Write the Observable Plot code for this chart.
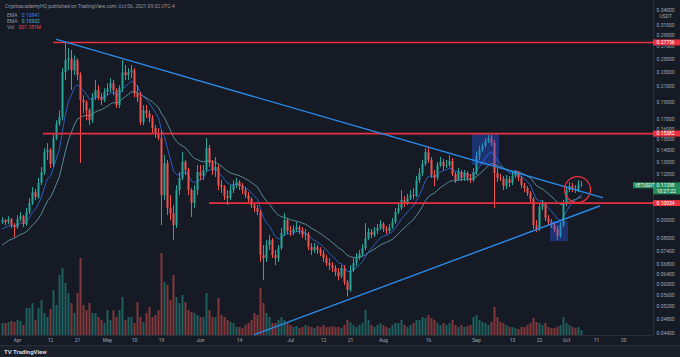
<!DOCTYPE html>
<html><head><meta charset="utf-8">
<script src="https://cdn.jsdelivr.net/npm/d3@7"></script>
<script src="https://cdn.jsdelivr.net/npm/@observablehq/plot@0.6"></script>
<style>
html,body{margin:0;padding:0;background:#161a25;}
#wrap{position:relative;width:680px;height:357px;overflow:hidden;background:#161a25;font-family:Roboto,"Noto Sans",sans-serif;}
#wrap svg{position:absolute;left:0;top:0;}
.hdr{position:absolute;left:5px;font-size:5px;line-height:6px;color:#9598a1;white-space:nowrap;}
#foot{position:absolute;left:0;top:345px;width:680px;height:12px;background:#1c202b;border-top:1px solid #2a2e39;box-sizing:border-box;}
#logo{position:absolute;left:4px;top:2px;font-size:6px;font-weight:bold;color:#d1d4dc;}
</style></head>
<body><div id="wrap"></div>
<script>
// ---------- data (VETUSDT daily) ----------
const startDay = "2021-03-27";
const firstOpen = 0.0887;
const close = [
0.0898,0.0887,0.0904,0.0870,0.0859,
0.0904,0.0921,0.0876,0.0945,0.1001,0.1072,0.1039,0.1136,0.1218,0.1383,
0.1400,0.1282,0.1510,0.1648,0.1725,0.2291,0.2475,0.2502,0.2320,0.2475,
0.2250,0.1920,0.1896,0.1800,0.1690,0.1955,0.2047,0.1955,0.1920,0.2021,
0.2070,0.2137,0.2047,0.1860,0.2070,0.2291,0.2250,0.2291,0.2320,0.2006,
0.1955,0.1669,0.1800,0.1767,0.1714,0.1609,0.1559,0.1510,0.1052,0.1290,
0.0970,0.0939,0.0870,0.1086,0.1173,0.1298,0.1233,0.1086,0.1001,0.1086,
0.1218,0.1188,0.1233,0.1418,0.1290,0.1233,0.1257,0.1121,0.1107,0.1046,
0.1033,0.1086,0.1121,0.1143,0.1114,0.1086,0.1052,0.1026,0.0988,0.0970,
0.0945,0.0720,0.0706,0.0767,0.0791,0.0720,0.0706,0.0752,0.0827,0.0898,
0.0838,0.0833,0.0849,0.0859,0.0843,0.0817,0.0822,0.0757,0.0743,0.0757,
0.0743,0.0729,0.0706,0.0684,0.0675,0.0663,0.0646,0.0630,0.0663,0.0607,
0.0577,0.0654,0.0684,0.0706,0.0725,0.0752,0.0801,0.0833,0.0817,0.0838,
0.0854,0.0876,0.0849,0.0838,0.0859,0.0887,0.0945,0.0970,0.1020,0.1001,
0.1033,0.1052,0.1046,0.1157,0.1210,0.1282,0.1383,0.1314,0.1195,0.1173,
0.1273,0.1298,0.1265,0.1273,0.1306,0.1203,0.1157,0.1218,0.1173,0.1210,
0.1173,0.1157,0.1218,0.1348,0.1400,0.1436,0.1481,0.1510,0.1462,0.1210,
0.1173,0.1168,0.1114,0.1165,0.1136,0.1188,0.1210,0.1173,0.1121,0.1100,
0.1066,0.1026,0.0870,0.0849,0.0976,0.1001,0.0910,0.0887,0.0870,0.0849,
0.0812,0.0870,0.0994,0.1086,0.1114,0.1093,0.1086,0.1126,0.11298];
const high = [
0.0916,0.0904,0.0921,0.0910,0.0881,
0.0927,0.0945,0.0927,0.0970,0.1033,0.1107,0.1093,0.1173,0.1257,0.1418,
0.1462,0.1418,0.1559,0.1690,0.1800,0.2352,0.2757,0.2669,0.2640,0.2550,
0.2502,0.2291,0.1980,0.1920,0.1825,0.2006,0.2180,0.2110,0.2006,0.2070,
0.2137,0.2208,0.2180,0.2070,0.2110,0.2475,0.2400,0.2352,0.2400,0.2352,
0.2110,0.2021,0.1860,0.1860,0.1800,0.1747,0.1640,0.1609,0.1589,0.1356,
0.1314,0.1052,0.0988,0.1121,0.1218,0.1383,0.1314,0.1249,0.1100,0.1121,
0.1273,0.1273,0.1273,0.1510,0.1445,0.1314,0.1339,0.1273,0.1157,0.1121,
0.1086,0.1121,0.1157,0.1173,0.1157,0.1136,0.1107,0.1072,0.1039,0.1001,
0.0988,0.0957,0.0767,0.0791,0.0817,0.0801,0.0743,0.0767,0.0854,0.0939,
0.0910,0.0865,0.0870,0.0887,0.0870,0.0859,0.0849,0.0833,0.0776,0.0776,
0.0767,0.0757,0.0743,0.0720,0.0706,0.0689,0.0675,0.0663,0.0675,0.0675,
0.0614,0.0675,0.0706,0.0729,0.0743,0.0771,0.0881,0.0854,0.0849,0.0859,
0.0876,0.0898,0.0887,0.0865,0.0876,0.0910,0.0970,0.1001,0.1086,0.1046,
0.1059,0.1086,0.1100,0.1188,0.1249,0.1314,0.1418,0.1436,0.1339,0.1233,
0.1298,0.1339,0.1322,0.1314,0.1356,0.1331,0.1218,0.1249,0.1233,0.1233,
0.1225,0.1203,0.1249,0.1383,0.1436,0.1462,0.1510,0.1539,0.1539,0.1490,
0.1249,0.1203,0.1188,0.1195,0.1188,0.1218,0.1233,0.1225,0.1188,0.1136,
0.1114,0.1079,0.1039,0.0898,0.1001,0.1020,0.1007,0.0927,0.0904,0.0887,
0.0865,0.0887,0.1020,0.1114,0.1143,0.1136,0.1121,0.1157,0.1150];
const low = [
0.0876,0.0870,0.0876,0.0854,0.0807,
0.0849,0.0892,0.0859,0.0865,0.0933,0.0988,0.1020,0.1026,0.1121,0.1195,
0.1314,0.1249,0.1257,0.1490,0.1632,0.1690,0.2180,0.2320,0.2047,0.2250,
0.2180,0.1290,0.1767,0.1690,0.1640,0.1659,0.1920,0.1920,0.1860,0.1896,
0.1980,0.2021,0.1980,0.1825,0.1825,0.2021,0.2180,0.2180,0.2208,0.1955,
0.1896,0.1640,0.1640,0.1714,0.1669,0.1559,0.1510,0.1490,0.0870,0.1020,
0.0927,0.0898,0.0791,0.0854,0.1052,0.1157,0.1195,0.1052,0.0916,0.0970,
0.1052,0.1157,0.1157,0.1218,0.1257,0.1195,0.1180,0.1086,0.1066,0.1020,
0.0988,0.1020,0.1066,0.1100,0.1086,0.1059,0.1033,0.1001,0.0970,0.0945,
0.0927,0.0689,0.0614,0.0689,0.0743,0.0706,0.0675,0.0689,0.0743,0.0812,
0.0822,0.0812,0.0817,0.0833,0.0822,0.0801,0.0791,0.0743,0.0720,0.0729,
0.0725,0.0715,0.0689,0.0671,0.0654,0.0646,0.0630,0.0614,0.0622,0.0595,
0.0553,0.0570,0.0646,0.0671,0.0697,0.0715,0.0743,0.0791,0.0801,0.0807,
0.0822,0.0843,0.0833,0.0822,0.0827,0.0849,0.0876,0.0933,0.0957,0.0976,
0.0988,0.1020,0.1026,0.1039,0.1136,0.1188,0.1265,0.1290,0.1173,0.1114,
0.1157,0.1257,0.1233,0.1249,0.1257,0.1188,0.1136,0.1157,0.1150,0.1150,
0.1150,0.1136,0.1143,0.1195,0.1314,0.1383,0.1418,0.1462,0.1436,0.0970,
0.1143,0.1150,0.1086,0.1093,0.1107,0.1121,0.1173,0.1150,0.1100,0.1072,
0.1046,0.1007,0.0849,0.0833,0.0838,0.0957,0.0892,0.0870,0.0854,0.0833,
0.0791,0.0801,0.0859,0.0982,0.1072,0.1072,0.1066,0.1072,0.1107];
// volume, millions of VET
const volume = [
240,240,260,280,260,
300,280,200,540,540,640,300,540,700,440,
360,520,900,600,1200,1340,1040,840,640,440,
840,1540,600,500,640,440,440,360,300,240,
500,300,500,360,500,760,300,360,360,240,
660,360,260,440,560,360,400,500,1640,1060,
1000,700,1200,760,640,800,660,500,460,440,
400,360,360,840,500,360,360,740,400,360,
300,260,240,160,160,140,200,240,300,440,
400,940,640,440,360,240,240,300,360,300,
240,200,160,180,140,160,200,180,160,140,
180,160,200,160,160,180,160,160,140,200,
300,260,200,160,200,240,500,300,200,160,
200,240,200,160,140,200,240,240,300,200,
160,200,240,300,300,360,340,400,340,300,
240,200,240,200,240,300,200,160,200,160,
180,200,360,400,300,260,240,200,260,560,
360,260,240,200,160,160,140,120,160,160,
200,240,340,260,240,200,240,160,140,140,
160,200,360,240,200,160,140,160,100];
// EMA settings and starting values read at the left edge
const emaFastLen = 9, emaSlowLen = 21;
const emaFastStart = 0.0843, emaSlowStart = 0.0757;
// horizontal levels
const levels = [
  {value: 0.27756, start: "2021-04-13"},
  {value: 0.15582, start: "2021-04-09T16:00Z"},
  {value: 0.10034, start: "2021-06-04"}];
// trend lines
const trendDown = [{date: "2021-04-14", price: 0.2829}, {date: "2021-10-13", price: 0.1039}];
const trendUp = [{date: "2021-06-19", price: 0.0436}, {date: "2021-10-12", price: 0.0985}];
// highlight boxes
const boxes = [
  {from: "2021-08-30T16:00Z", to: "2021-09-08T16:00Z", top: 0.1559, bottom: 0.1273},
  {from: "2021-09-25T16:00Z", to: "2021-10-01T16:00Z", top: 0.0892, bottom: 0.0786}];
const circleMark = [{date: "2021-10-04T16:00Z", price: 0.1093}];
// axes
const priceTicks = [0.044,0.048,0.052,0.056,0.06,0.064,0.068,0.074,0.08,0.09,0.10,0.12,0.13,0.14,0.15,0.16,0.17,0.19,0.21,0.23,0.25,0.27,0.29,0.31,0.34];
const timeTicks = ["2021-04-01","2021-04-12","2021-04-21","2021-05-01","2021-05-10","2021-05-19","2021-06-01","2021-06-14","2021-07-01","2021-07-12","2021-07-21","2021-08-01","2021-08-16","2021-09-01","2021-09-13","2021-09-22","2021-10-01","2021-10-11","2021-10-20"];
const timeLabels = ["Apr","12","21","May","10","19","Jun","14","Jul","12","21","Aug","16","Sep","13","22","Oct","11","20"];
const lastPrice = 0.11298, countdown = "10:27:22", symbol = "VETUSDT";
const xDomain = ["2021-03-26T08:00Z", "2021-10-30T00:00Z"];
const axisEnd = "2021-11-08T00:00Z", symbolStart = "2021-10-23T08:00Z";
const yDomain = [0.04338, 0.3620];

// ---------- build ----------
const UP = "#26a69a", DOWN = "#ef5350", RED = "#e8303e", BLUE = "#2a8ae8";
const t0 = new Date(startDay + "T00:00Z").getTime();
const candles = close.map((c, i) => {
  const o = i === 0 ? firstOpen : close[i - 1];
  return {date: new Date(t0 + i * 864e5), open: o, close: c, high: high[i], low: low[i], volume: volume[i], up: c >= o};
});
function ema(vals, n, seed) { const k = 2 / (n + 1); let e = seed; return vals.map(v => (e = v * k + e * (1 - k))); }
const ef = ema(close, emaFastLen, emaFastStart), es = ema(close, emaSlowLen, emaSlowStart);
candles.forEach((d, i) => { d.emaF = ef[i]; d.emaS = es[i]; });
const D = s => new Date(s);
const xd = xDomain.map(D), xEnd = xd[1], xAxisEnd = D(axisEnd);
const labelMap = new Map(timeTicks.map((t, i) => [+D(t), timeLabels[i]]));
const col = d => d.up ? UP : DOWN;
const style = {background: "transparent", color: "#a3a6af", fontFamily: "Roboto, sans-serif", fontSize: "5px", overflow: "visible"};

const volPlot = Plot.plot({
  width: 680, height: 345, marginTop: 250, marginBottom: 10, marginLeft: 0, marginRight: 27,
  style,
  x: {type: "utc", domain: xd, axis: null},
  y: {domain: [0, 1700], axis: null},
  color: {type: "identity"},
  marks: [
    Plot.ruleX(candles, {x: "date", y1: 0, y2: "volume", stroke: col, strokeWidth: 2, strokeOpacity: 0.5})
  ]
});

const pricePlot = Plot.plot({
  width: 680, height: 345, marginTop: 0, marginBottom: 10, marginLeft: 0, marginRight: 27,
  style,
  x: {type: "utc", domain: xd, ticks: timeTicks.map(D), tickFormat: d => labelMap.get(+d) || "", tickSize: 0, tickPadding: 3, label: null},
  y: {type: "log", domain: yDomain, ticks: priceTicks, tickFormat: d3.format(".5f"), tickSize: 0, tickPadding: 3, axis: "right", label: null},
  color: {type: "identity"},
  marks: [
    Plot.ruleX([xEnd], {stroke: "#2a2e39"}),
    Plot.ruleY([yDomain[0]], {stroke: "#2a2e39"}),
    Plot.line(candles, {x: "date", y: "emaS", stroke: "#6aaeb8", strokeWidth: 0.9, strokeOpacity: 0.85}),
    Plot.line(candles, {x: "date", y: "emaF", stroke: "#2f6fe0", strokeWidth: 0.9, strokeOpacity: 0.9}),
    Plot.ruleX(candles, {x: "date", y1: "low", y2: "high", stroke: col, strokeWidth: 1}),
    Plot.ruleX(candles, {x: "date", y1: "open", y2: "close", stroke: col, strokeWidth: 2}),
    Plot.rect(boxes, {x1: d => D(d.from), x2: d => D(d.to), y1: "bottom", y2: "top", fill: "#2962ff", fillOpacity: 0.35}),
    Plot.ruleY(levels, {y: "value", x1: d => D(d.start), x2: () => xEnd, stroke: RED, strokeWidth: 1.6}),
    Plot.line(trendDown, {x: d => D(d.date), y: "price", stroke: BLUE, strokeWidth: 1.4}),
    Plot.line(trendUp, {x: d => D(d.date), y: "price", stroke: BLUE, strokeWidth: 1.4}),
    Plot.dot(circleMark, {x: d => D(d.date), y: "price", r: 13, stroke: RED, strokeWidth: 1.3, fill: "none"}),
    // price labels on the axis
    Plot.ruleY(levels, {y: "value", x1: () => xEnd, x2: () => xAxisEnd, stroke: RED, strokeWidth: 6}),
    Plot.text(levels, {y: "value", x: () => xEnd, text: d => d.value.toFixed(5), textAnchor: "start", dx: 3, fill: "white", fontSize: 5}),
    Plot.ruleY([lastPrice], {x1: () => xEnd, x2: () => xAxisEnd, dy: 4, stroke: "#1f8a5a", strokeWidth: 12}),
    Plot.text([lastPrice], {y: d => d, x: () => xEnd, text: d => d.toFixed(5), textAnchor: "start", dx: 3, dy: 1, fill: "white", fontSize: 5}),
    Plot.text([lastPrice], {y: d => d, x: () => xEnd, text: () => countdown, textAnchor: "start", dx: 3, dy: 7, fill: "white", fontSize: 5}),
    Plot.ruleY([lastPrice], {x1: () => D(symbolStart), x2: () => xEnd, dy: 1, stroke: "#1f8a5a", strokeWidth: 6}),
    Plot.text([lastPrice], {y: d => d, x: () => D(symbolStart), text: () => symbol, textAnchor: "start", dx: 1.5, dy: 1, fill: "white", fontSize: 4.5}),
    Plot.text(["USDT"], {y: () => 0.328, x: () => xEnd, text: d => d, textAnchor: "start", dx: 6, fill: "#a3a6af", fontSize: 5})
  ]
});

const wrap = document.getElementById("wrap");
wrap.appendChild(volPlot);
wrap.appendChild(pricePlot);
const hdr = [
  ["CryptoacademyHQ published on TradingView.com, Oct 06, 2021 09:32 UTC-4", null, null, 3],
  ["EMA", "0.10841", "#3b7cf0", 12],
  ["EMA", "0.10932", "#4fb8c8", 18],
  ["Vol", "501.181M", "#e04b4b", 24]];
hdr.forEach(([a, b, c, top]) => {
  const d = document.createElement("div");
  d.className = "hdr"; d.style.top = top + "px";
  d.textContent = a;
  if (b) { d.style.left = "7px"; const s = document.createElement("span"); s.textContent = "  " + b; s.style.color = c; s.style.marginLeft = "3px"; d.appendChild(s); }
  wrap.appendChild(d);
});
const foot = document.createElement("div"); foot.id = "foot";
const logo = document.createElement("div"); logo.id = "logo"; logo.textContent = "TV TradingView";
foot.appendChild(logo); wrap.appendChild(foot);
</script></body></html>
